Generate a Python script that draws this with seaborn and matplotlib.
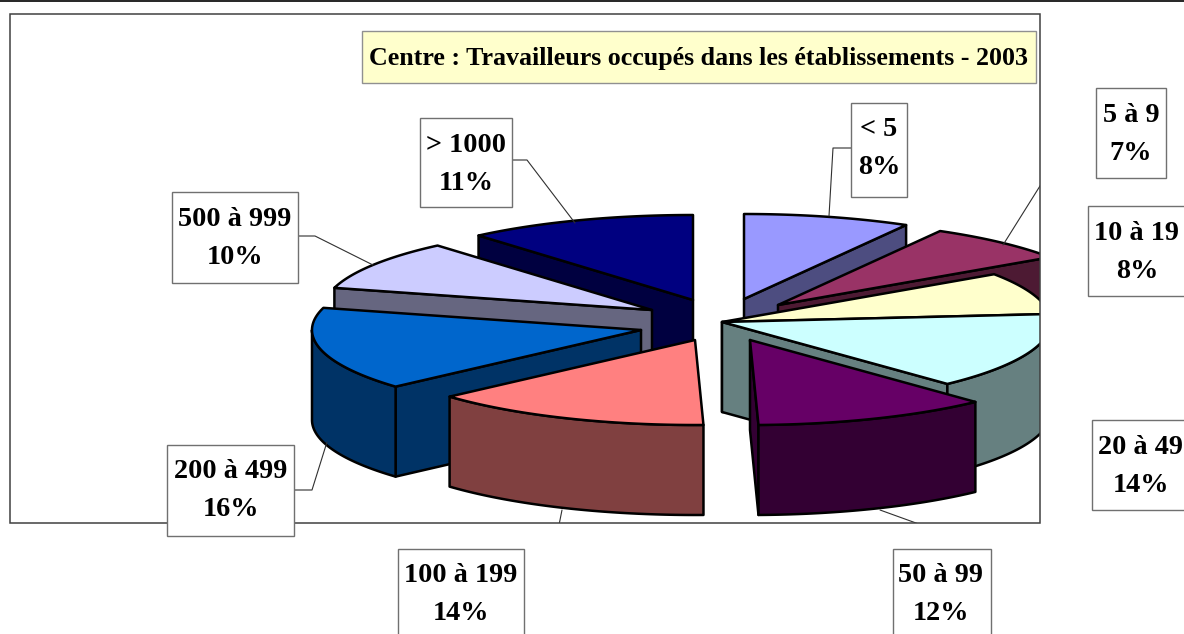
import numpy as np
import matplotlib
matplotlib.use('Agg')
import matplotlib.pyplot as plt
from matplotlib.colors import to_rgb
from matplotlib.patches import Rectangle
import seaborn as sns

# Chart data (clockwise from 12 o'clock)
categories = ['< 5', '5 à 9', '10 à 19', '20 à 49', '50 à 99', '100 à 199', '200 à 499', '500 à 999', '> 1000']
percent_labels = [8, 7, 8, 14, 12, 14, 16, 10, 11]
shares = [8.2, 7.3, 8.0, 14.49, 11.6, 13.81, 15.8, 9.5, 11.3]
title = 'Centre : Travailleurs occupés dans les établissements - 2003'

colors = ['#9999FF', '#993366', '#FFFFCC', '#CCFFFF', '#660066', '#FF8080', '#0066CC', '#CCCCFF', '#000080']

# Layout in image pixels: exploded position of each slice's centre
centres = [(744, 299), (778, 305), (722, 322), (722, 322), (750, 340), (695, 340), (641, 330), (652, 310), (693, 300)]
rx, ry, depth = 329, 85, 90
frame_box = (10, 14, 1040, 523)
title_box = (362, 31, 1036, 83)
# x0, y0, x1, y1 of each label box
label_boxes = [(851, 103, 907, 197), (1096, 88, 1166, 178), (1088, 206, 1190, 296), (1092, 420, 1190, 510),
               (893, 549, 991, 645), (398, 549, 524, 645), (167, 445, 294, 536), (172, 192, 298, 283), (420, 118, 512, 207)]
label_centres = [879, 1131, 1137, 1141, 941, 461, 231, 235, 466]
leaders = [[(851, 148), (833, 148), (829, 216)], [(1003, 245), (1050, 170)], None, None,
           [(880, 510), (916, 523), (960, 540)], [(562, 510), (558, 530)],
           [(294, 490), (312, 490), (327, 442)], [(298, 236), (315, 236), (373, 265)],
           [(512, 160), (527, 160), (575, 223)]]

sns.set_theme(style='white')
plt.rcParams['font.family'] = ['Liberation Serif', 'DejaVu Serif']

fig, ax = plt.subplots(figsize=(11.84, 6.34), dpi=100)
ax.set_position([0, 0, 1, 1])
ax.set_xlim(0, 1184)
ax.set_ylim(634, 0)
ax.axis('off')

x0, y0, x1, y1 = frame_box
frame = Rectangle((x0, y0), x1 - x0, y1 - y0, fill=False, ec='#404040', lw=1.1, zorder=50)
ax.add_patch(frame)
clip = Rectangle((x0, y0), x1 - x0, y1 - y0, transform=ax.transData)


def rim_point(centre, angle):
    return centre[0] + rx * np.sin(angle), centre[1] - ry * np.cos(angle)


def draw_face(points, color, z):
    xs, ys = zip(*points)
    for patch in ax.fill(xs, ys, fc=color, ec='black', lw=1.8, joinstyle='round', zorder=z):
        patch.set_clip_path(clip)


bounds = np.radians(np.cumsum([0] + shares) * 3.6)
mids = (bounds[:-1] + bounds[1:]) / 2

# back slices first so the front ones cover them
for z, i in enumerate(sorted(range(len(shares)), key=lambda k: -np.cos(mids[k]))):
    c = centres[i]
    a0, a1 = bounds[i], bounds[i + 1]
    side = tuple(v * 0.5 for v in to_rgb(colors[i]))
    base = 10 + z * 0.1

    for angle, visible in ((a0, np.sin(a0) < -1e-6), (a1, np.sin(a1) > 1e-6)):
        if visible:
            px, py = rim_point(c, angle)
            draw_face([c, (px, py), (px, py + depth), (c[0], c[1] + depth)], side, base)

    lo, hi = max(a0, np.pi / 2), min(a1, 3 * np.pi / 2)
    if lo < hi:
        arc = [rim_point(c, a) for a in np.linspace(lo, hi, 60)]
        draw_face(arc + [(x, y + depth) for x, y in arc[::-1]], side, base + 0.01)

    top = [c] + [rim_point(c, a) for a in np.linspace(a0, a1, 80)]
    draw_face(top, colors[i], base + 0.02)

# leader lines stay inside the chart frame
for path in leaders:
    if path:
        xs, ys = zip(*path)
        line, = ax.plot(xs, ys, color='#303030', lw=0.8, zorder=40)
        line.set_clip_path(clip)

# data labels
for cat, pct, box, cx, in zip(categories, percent_labels, label_boxes, label_centres):
    bx0, by0, bx1, by1 = box
    ax.add_patch(Rectangle((bx0, by0), bx1 - bx0, by1 - by0, fc='white', ec='#707070', lw=1, zorder=60))
    ax.text(cx, by0 + 27, cat, ha='center', va='center', fontsize=20.3, fontweight='bold', color='black', zorder=61)
    ax.text(cx, by0 + 65, f'{pct}%', ha='center', va='center', fontsize=20.3, fontweight='bold', color='black', zorder=61)

# title box and the rule at the top of the page
tx0, ty0, tx1, ty1 = title_box
ax.add_patch(Rectangle((tx0, ty0), tx1 - tx0, ty1 - ty0, fc='#FFFFCC', ec='#909090', lw=1, zorder=60))
ax.text((tx0 + tx1) / 2 - 0.5, (ty0 + ty1) / 2 + 2, title, ha='center', va='center', fontsize=18.7,
        fontweight='bold', color='black', zorder=61)
ax.plot([0, 1184], [0.5, 0.5], color='black', lw=1.2, zorder=70, clip_on=False)

fig.savefig('out.png', dpi=100)
